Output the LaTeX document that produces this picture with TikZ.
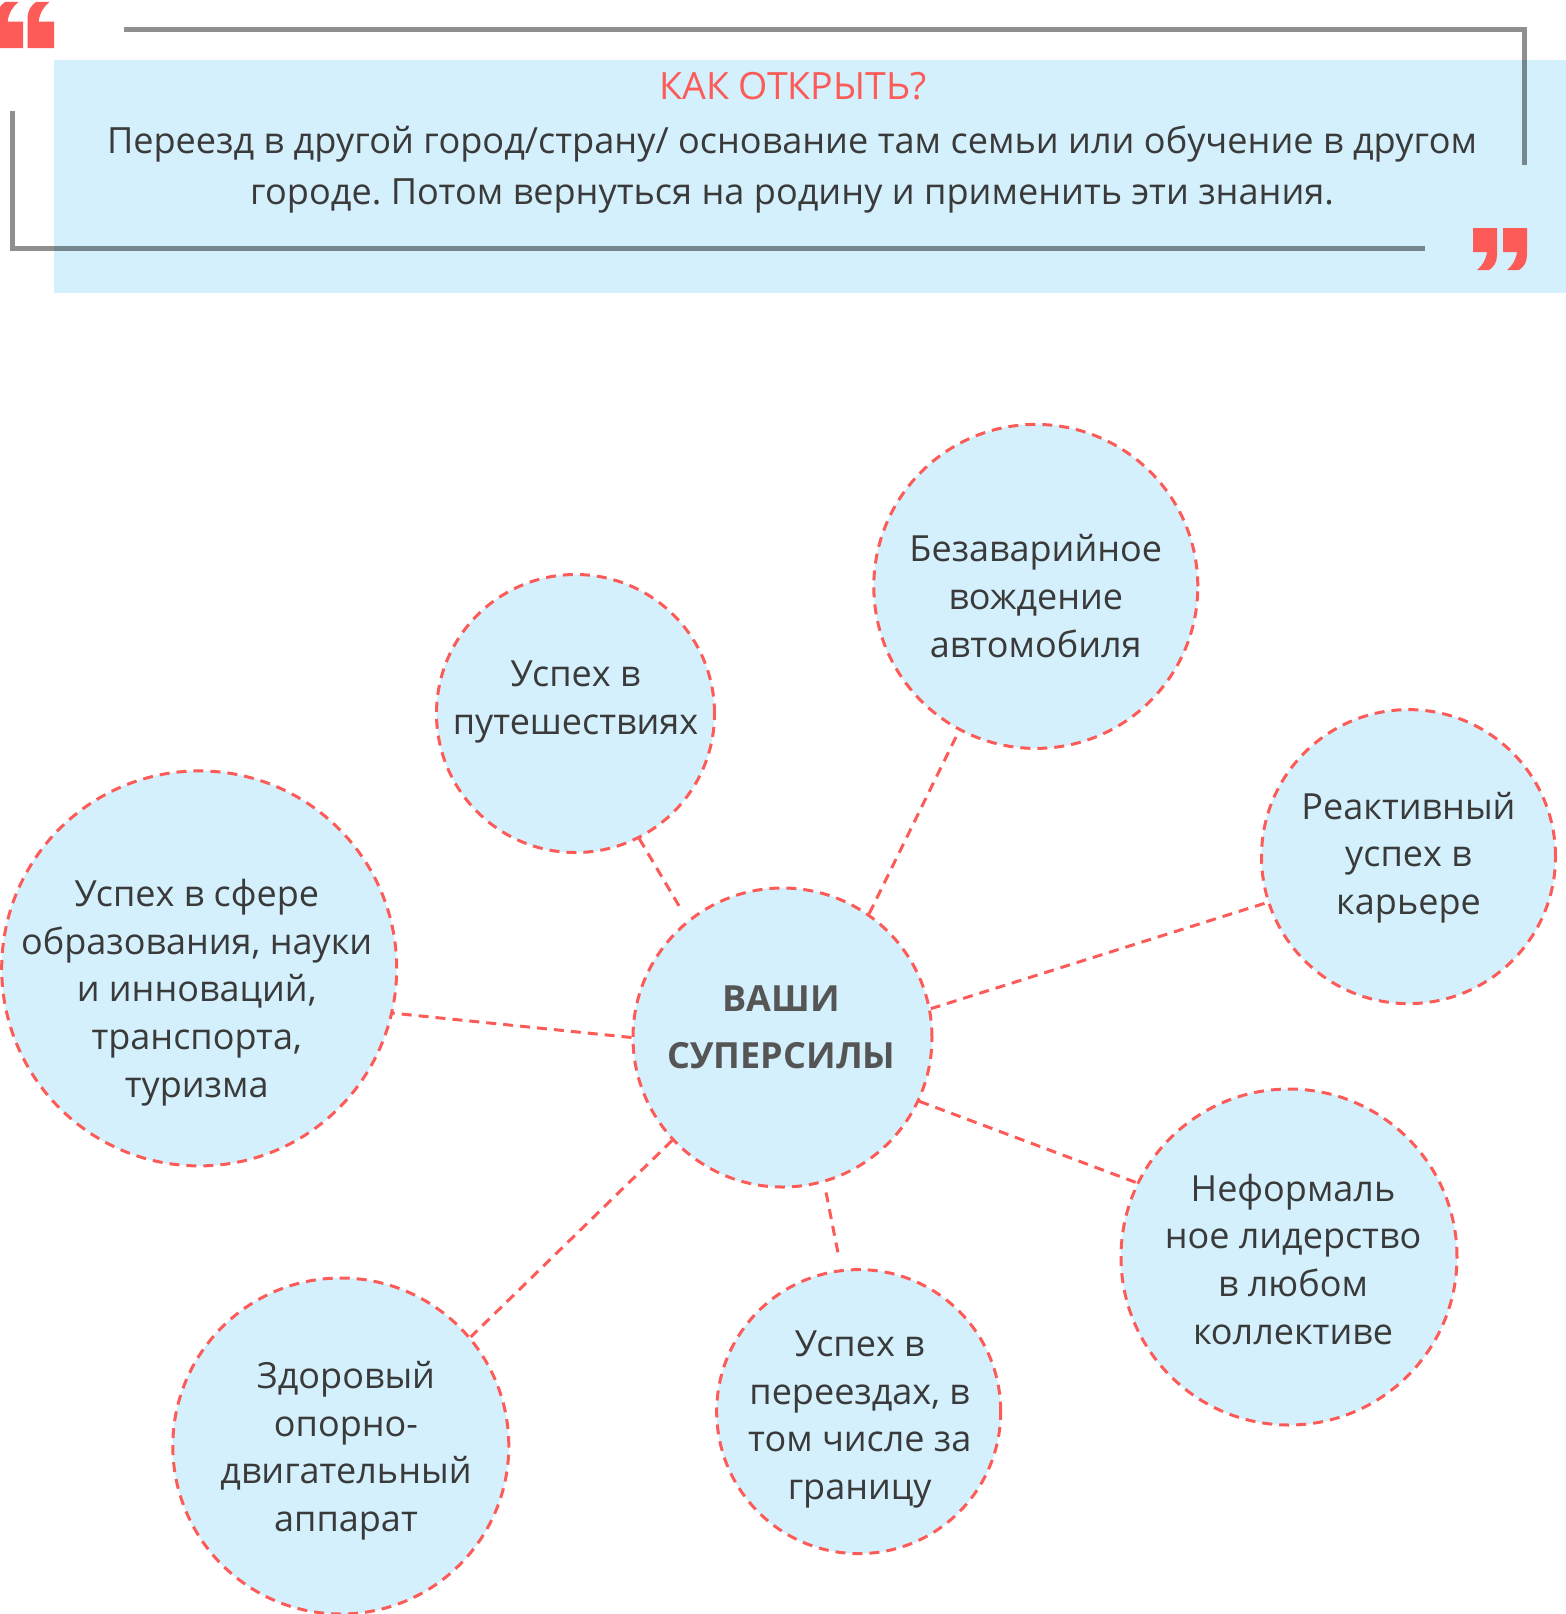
\documentclass[tikz,border=0pt]{standalone}
\usepackage{fontspec}
\setmainfont{Open Sans}
\usetikzlibrary{positioning, calc}

\definecolor{bubbleblue}{HTML}{D3F0FC}
\definecolor{superred}{HTML}{FC5B58}
\definecolor{textgray}{HTML}{3A3A3A}
\definecolor{coregray}{HTML}{555555}

\frenchspacing

\begin{document}
\begin{tikzpicture}[
    x=0.5pt, y=-0.5pt,      % 1単位 = 1ピクセル（下向き）
    bubble/.style={circle, draw=superred, fill=bubbleblue, line width=1.5pt,
        dash pattern=on 5pt off 3.5pt, inner sep=0pt},
    bubble_text/.style={align=center, text=textgray,
        font=\fontsize{18}{23.8}\selectfont},
    link/.style={draw=superred, line width=1.5pt, dash pattern=on 5pt off 3.5pt},
    frame_line/.style={line width=2.5pt, black, opacity=0.44},
    quote_mark/.style={fill=superred, draw=none}
]
    \useasboundingbox (0,0) rectangle (1566,1614);

    % --- 1. 引用ボックス ---
    \fill [bubbleblue] (54,60) rectangle (1566,293);
    \draw [frame_line] (124,29) -- (1524,29) -- (1524,165);
    \draw [frame_line] (12,111) -- (12,248) -- (1425,248);

    % 引用符（開き・閉じ）
    \foreach \dx in {0, 31} {
        \fill [quote_mark, shift={(54-\dx, 48)}, rotate=180, scale=1.1]
            (0,0) -- (24,0) -- (24,27) .. controls (24,34) and (21,39) .. (16,42)
            -- (4,42) .. controls (9,38) and (13,32) .. (14,24) -- (0,24) -- cycle;
    }
    \foreach \dx in {0, 30} {
        \fill [quote_mark, shift={(1473+\dx, 228)}]
            (0,0) -- (24,0) -- (24,27) .. controls (24,34) and (21,39) .. (16,42)
            -- (4,42) .. controls (9,38) and (13,32) .. (14,24) -- (0,24) -- cycle;
    }

    \node [text=superred, font=\fontsize{18.8}{25.7}\selectfont] (howto) at (793,86) {КАК ОТКРЫТЬ?};
    \node [align=center, text=textgray, font=\fontsize{18.05}{25.9}\selectfont] (howto_text) at (792,169.5)
        {Переезд в другой город/страну/ основание там семьи или обучение в другом\\
         городе. Потом вернуться на родину и применить эти знания.};

    % --- 2. 円（バブル） ---
    \node [bubble, minimum size=149.5pt] (core) at (782.5,1037.5) {};
    \node [bubble, minimum size=139pt] (travel) at (575.5,713.5) {};
    \node [bubble, minimum size=162pt] (driving) at (1035.8,586.4) {};
    \node [bubble, minimum size=147pt] (career) at (1408.5,856.6) {};
    \node [bubble, minimum size=168pt] (leader) at (1289,1257) {};
    \node [bubble, minimum size=142pt] (moving) at (858.7,1411.6) {};
    \node [bubble, minimum size=168pt] (health) at (340.8,1446) {};
    \node [bubble, minimum size=197.5pt] (science) at (199.2,968.4) {};

    % --- 3. 破線のつながり ---
    \draw [link, shorten >=8pt] (travel.-63.7) -- (core.129.9);
    \draw [link] (core.55.2) -- (driving.-118.2);
    \draw [link] (core.11.2) -- (career.198);
    \draw [link] (core.-25.2) -- (leader.154);
    \draw [link, shorten <=5pt, shorten >=6pt] (core.-74.6) -- (moving.97.7);
    \draw [link] (core.223.7) -- (health.40.7);
    \draw [link] (core.180) -- (science.-13.9);

    % --- 4. テキスト ---
    \node [align=center, text=coregray, font=\fontsize{18}{28.5}\selectfont\bfseries] (core_text) at (781.5,1027.5)
        {ВАШИ\\СУПЕРСИЛЫ};
    \node [bubble_text] (travel_text) at (575.5,702) {Успех в\\путешествиях};
    \node [bubble_text] (driving_text) at (1035.8,596) {Безаварийное\\вождение\\автомобиля};
    \node [bubble_text] (career_text) at (1408.5,857.6) {Реактивный\\успех в\\карьере};
    \node [bubble_text] (leader_text) at (1293,1259.2) {Неформаль\\ное лидерство\\в любом\\коллективе};
    \node [bubble_text] (moving_text) at (859.7,1419.3) {Успех в\\переездах, в\\том числе за\\границу};
    \node [bubble_text] (health_text) at (346,1450.6) {Здоровый\\опорно-\\двигательный\\аппарат};
    \node [bubble_text] (science_text) at (196.7,992.5)
        {Успех в сфере\\образования, науки\\и инноваций,\\транспорта,\\туризма};

\end{tikzpicture}
\end{document}
